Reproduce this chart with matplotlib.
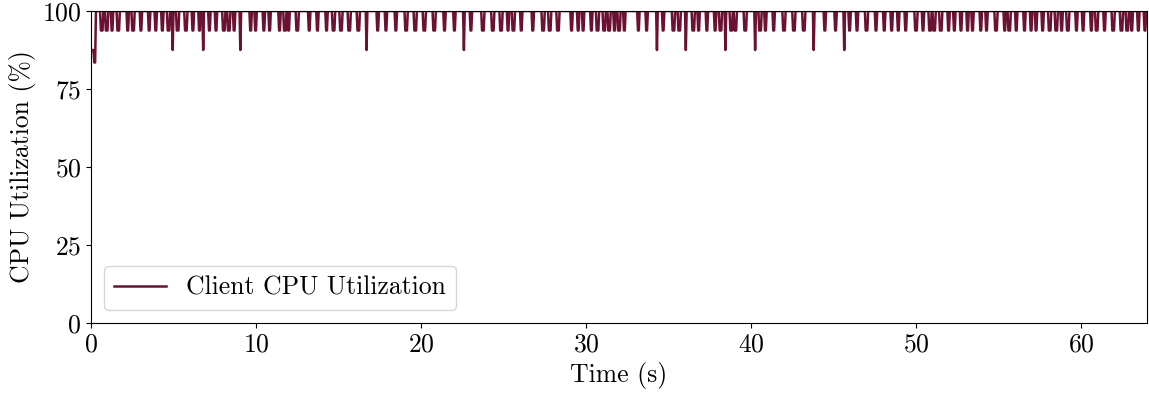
import numpy as np
import matplotlib
matplotlib.use("Agg")
import matplotlib.pyplot as plt

plt.rcParams['font.family'] = 'serif'
plt.rcParams['font.serif'] = ['cmr10']
plt.rcParams['mathtext.fontset'] = 'cm'
plt.rcParams['axes.formatter.use_mathtext'] = True

# sampling of the monitor (s)
SAMPLE_DT = 0.05
DURATION = 64.0
LINE_COLOR = '#6b1232'
FS = 18.5

# first samples at start-up
start_times = [0.1, 0.15, 0.2, 0.25]
start_values = [87.5, 87.5, 83.5, 83.5]

# times of short drops to 93.75 %
dips_94 = [0.65, 0.95, 1.26, 1.66, 2.21, 2.55, 3.02, 3.53, 3.93, 4.34, 4.70, 5.25,
           5.76, 6.16, 6.57, 7.17, 7.58, 8.05, 8.35, 8.69, 9.67, 9.97, 10.48, 10.82,
           11.43, 11.75, 11.99, 12.50, 13.21, 13.72, 14.29, 14.70, 15.14, 15.64,
           16.19, 17.37, 17.87, 18.48, 19.09, 19.64, 20.20, 20.81, 21.42, 22.03,
           23.04, 23.75, 24.36, 24.86, 25.27, 25.60, 26.08, 26.79, 27.40, 27.80,
           28.31, 29.12, 29.52, 29.83, 30.33, 30.70, 31.10, 31.39, 31.71, 32.00,
           32.32, 33.17, 33.68, 34.69, 35.30, 35.65, 36.51, 36.82, 37.33, 37.83,
           38.15, 38.80, 39.05, 39.65, 40.55, 40.87, 41.38, 41.99, 42.59, 43.20,
           44.48, 45.13, 45.98, 46.44, 46.99, 47.56, 48.07, 48.53, 48.94, 49.38,
           49.99, 50.44, 50.84, 51.10, 51.51, 51.98, 52.32, 52.73, 53.13, 53.43,
           53.94, 54.29, 54.85, 55.36, 55.66, 56.07, 56.57, 56.98, 57.28, 57.69,
           58.10, 58.50, 58.81, 59.20, 59.72, 60.12, 60.63, 60.95, 61.44, 61.95,
           62.45, 62.80, 63.06, 63.47, 63.87]

# times of deeper drops to 87.5 %
dips_88 = [4.96, 6.80, 9.06, 16.72, 22.60, 34.29, 36.05, 38.44, 40.24, 43.81, 45.63]

t = np.round(np.arange(0.1, DURATION + SAMPLE_DT / 2, SAMPLE_DT), 3)
cpu = np.full(len(t), 100.0)
for d in dips_94:
    cpu[np.abs(t - d) <= 0.06] = 93.75
for d in dips_88:
    cpu[np.argmin(np.abs(t - d))] = 87.5
for st, sv in zip(start_times, start_values):
    cpu[np.argmin(np.abs(t - st))] = sv

fig = plt.figure(figsize=(11.49, 3.98), dpi=100)
ax = fig.add_axes([91 / 1149, 1 - 323 / 398, (1147 - 91) / 1149, (323 - 11) / 398])
ax.plot(t, cpu, color=LINE_COLOR, linewidth=1.8, label='Client CPU Utilization')

ax.set_xlim(0, DURATION)
ax.set_ylim(0, 100)
ax.set_yticks([0, 25, 50, 75, 100])
ax.set_xticks([0, 10, 20, 30, 40, 50, 60])
ax.tick_params(labelsize=FS)
ax.set_xlabel('Time (s)', fontsize=FS)
ax.set_ylabel('CPU Utilization (%)', fontsize=FS)
ax.legend(loc='lower left', fontsize=FS)

fig.savefig('out.png', dpi=100)
